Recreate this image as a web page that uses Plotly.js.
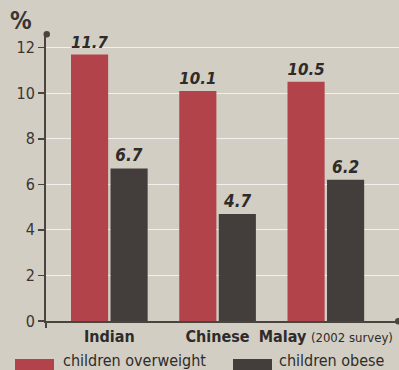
<!DOCTYPE html>
<html><head><meta charset="utf-8">
<script src="https://cdn.plot.ly/plotly-3.0.1.min.js"></script>
<style>html,body{margin:0;padding:0;background:#d2cec3;}#c{width:399px;height:370px;}</style>
</head><body><div id="c"></div>
<script>
var categories = ['Indian', 'Chinese', 'Malay'];
var tickLabels = ['<b>Indian</b>', '<b>Chinese</b>', '<b>Malay</b> <span style="font-size:13px">(2002 survey)</span>'];
var overweight = [11.7, 10.1, 10.5];
var obese = [6.7, 4.7, 6.2];
var seriesNames = ['children overweight', 'children obese'];
var yTicks = [0, 2, 4, 6, 8, 10, 12];

var FONT = 'Liberation Sans Narrow, DejaVu Sans Condensed, Arial Narrow, sans-serif';
var RED = '#b3434b', DARK = '#433d3b', INK = '#2f2b29', AX = '#4a443f';

var L = 46, W = 353, T = 34, H = 287;
function px(x){ return (x - L) / W; }
function py(y){ return (T + H - y) / H; }

var valFont = {family: FONT, size: 17, color: INK, weight: 'bold', style: 'italic'};
var traces = [
  {type: 'bar', x: categories, y: overweight, name: seriesNames[0], marker: {color: RED},
   text: overweight.map(function(v){return v.toFixed(1);}), textposition: 'outside',
   textfont: valFont, cliponaxis: false, hoverinfo: 'none'},
  {type: 'bar', x: categories, y: obese, name: seriesNames[1], marker: {color: DARK},
   text: obese.map(function(v){return v.toFixed(1);}), textposition: 'outside',
   textfont: valFont, cliponaxis: false, hoverinfo: 'none'}
];

var layout = {
  width: 399, height: 370,
  margin: {l: L, r: 0, t: T, b: 370 - T - H},
  paper_bgcolor: '#d2cec3', plot_bgcolor: 'rgba(0,0,0,0)',
  showlegend: false,
  barmode: 'group', bargap: 0.27, bargroupgap: 0.06,
  font: {family: FONT, color: INK},
  xaxis: {
    type: 'category', range: [-0.585, 2.676],
    tickvals: categories, ticktext: tickLabels,
    tickfont: {family: FONT, size: 16, color: INK},
    showline: true, linecolor: AX, linewidth: 2,
    ticks: '', showgrid: false, zeroline: false, fixedrange: true
  },
  yaxis: {
    range: [0, 12.6], tickvals: yTicks, ticktext: yTicks.map(String),
    tickfont: {family: FONT, size: 16, color: '#3a3532'},
    ticks: 'outside', ticklen: 6, tickwidth: 1.5, tickcolor: AX,
    showline: true, linecolor: AX, linewidth: 2,
    showgrid: true, gridcolor: 'rgba(255,255,255,0.7)', gridwidth: 1,
    zeroline: false, fixedrange: true
  },
  shapes: [
    {type: 'circle', xref: 'paper', yref: 'paper', x0: px(43.5), x1: px(50), y0: py(31), y1: py(37.5), fillcolor: AX, line: {width: 0}},
    {type: 'circle', xref: 'paper', yref: 'paper', x0: px(395), x1: px(401.5), y0: py(318), y1: py(324.5), fillcolor: AX, line: {width: 0}},
    {type: 'line', xref: 'paper', yref: 'paper', x0: 0, x1: 0, y0: py(321), y1: py(328), line: {color: AX, width: 2}},
    {type: 'rect', xref: 'paper', yref: 'paper', x0: px(15), x1: px(54), y0: py(359), y1: py(372), fillcolor: RED, line: {width: 0}},
    {type: 'rect', xref: 'paper', yref: 'paper', x0: px(233), x1: px(272), y0: py(359), y1: py(372), fillcolor: DARK, line: {width: 0}}
  ],
  annotations: [
    {xref: 'paper', yref: 'paper', x: px(8), y: py(21), xanchor: 'left', yanchor: 'middle', showarrow: false,
     text: '<b>%</b>', font: {family: FONT, size: 24, color: '#3a3532'}},
    {xref: 'paper', yref: 'paper', x: px(61), y: py(360), xanchor: 'left', yanchor: 'middle', showarrow: false,
     text: seriesNames[0], font: {family: FONT, size: 16, color: INK}},
    {xref: 'paper', yref: 'paper', x: px(277), y: py(360), xanchor: 'left', yanchor: 'middle', showarrow: false,
     text: seriesNames[1], font: {family: FONT, size: 16, color: INK}}
  ]
};

Plotly.newPlot('c', traces, layout, {displayModeBar: false, staticPlot: true});
</script>
</body></html>
